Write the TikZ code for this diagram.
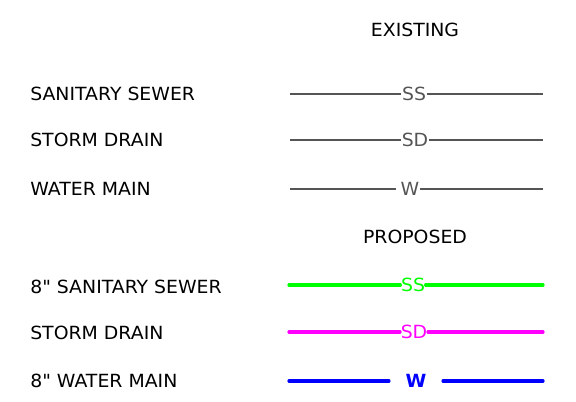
\documentclass[tikz,border=0pt]{standalone}
\usepackage{fontspec}
\setmainfont{DejaVu Sans}[FakeStretch=1.04]
\newfontfamily\plainquote{DejaVu Sans}[FakeStretch=1.04]
\newcommand\inchmark{{\plainquote\char34}}
\definecolor{oldgray}{RGB}{85,85,85}
\definecolor{ssgreen}{RGB}{0,255,0}
\definecolor{sdmagenta}{RGB}{255,0,255}
\definecolor{wblue}{RGB}{0,0,255}
\tikzset{
  legtext/.style={anchor=west,inner sep=0pt,font=\fontsize{13.6}{16}\selectfont},
  headtext/.style={inner sep=0pt,font=\fontsize{13.6}{16}\selectfont},
  linetag/.style={inner sep=0.3pt,font=\fontsize{13.6}{16}\selectfont},
  oldline/.style={draw=oldgray,line width=1.1pt},
  newline/.style={line width=2.4pt,line cap=round}
}
\begin{document}
\begin{tikzpicture}[x=0.75pt,y=-0.75pt]
% page frame, 576 x 402 px
\useasboundingbox (0,0) rectangle (576,402);

% Headings
\node[headtext] (existing) at (415,30) {EXISTING};
\node[headtext] (proposed) at (415,237) {PROPOSED};

% Existing utilities
\node[legtext] (exss) at (30,94) {SANITARY SEWER};
\node[legtext] (exsd) at (30,140) {STORM DRAIN};
\node[legtext] (exw)  at (30,189) {WATER MAIN};

\coordinate (exssL) at (290,94);  \coordinate (exssR) at (543,94);
\coordinate (exsdL) at (290,140); \coordinate (exsdR) at (543,140);
\coordinate (exwL)  at (290,189); \coordinate (exwR)  at (543,189);

\node[linetag,text=oldgray] (exssTag) at (414,94) {SS};
\node[linetag,text=oldgray] (exsdTag) at (415,140) {SD};
\node[linetag,text=oldgray] (exwTag)  at (410,189) {W};

\draw[oldline] (exssL) -- (exssTag.west);
\draw[oldline] (exssTag.east) -- (exssR);
\draw[oldline] (exsdL) -- (exsdTag.west);
\draw[oldline] (exsdTag.east) -- (exsdR);
\draw[oldline] (exwL) -- ([xshift=-3]exwTag.west);
\draw[oldline] (exwTag.east) -- (exwR);

% Proposed utilities
\node[legtext] (prss) at (30,287) {8\inchmark{} SANITARY SEWER};
\node[legtext] (prsd) at (30,333) {STORM DRAIN};
\node[legtext] (prw)  at (30,381) {8\inchmark{} WATER MAIN};

\coordinate (prssL) at (289,285); \coordinate (prssR) at (543,285);
\coordinate (prsdL) at (289,332); \coordinate (prsdR) at (543,332);
\coordinate (prwL)  at (289,381); \coordinate (prwR)  at (543,381);

\node[linetag,text=ssgreen] (prssTag) at (413,285) {SS};
\node[linetag,text=sdmagenta] (prsdTag) at (414,332) {SD};
\node[linetag,text=wblue,font=\fontsize{13.6}{16}\bfseries] (prwTag) at (416,381) {W};

\draw[newline,ssgreen] (prssL) -- (prssTag.west);
\draw[newline,ssgreen] (prssTag.east) -- (prssR);
\draw[newline,sdmagenta] (prsdL) -- (prsdTag.west);
\draw[newline,sdmagenta] (prsdTag.east) -- (prsdR);
\draw[newline,wblue] (prwL) -- ([xshift=-12]prwTag.west);
\draw[newline,wblue] ([xshift=12]prwTag.east) -- (prwR);
\end{tikzpicture}
\end{document}
